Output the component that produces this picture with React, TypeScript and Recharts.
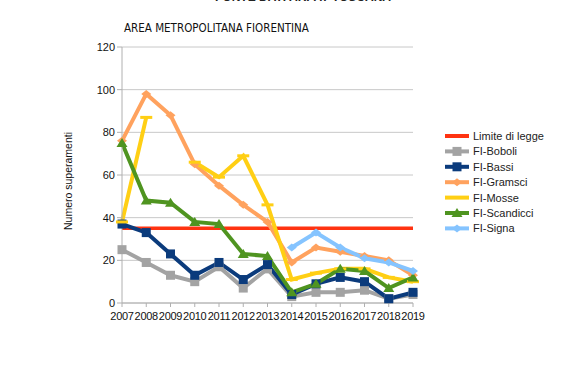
import { LineChart, Line, XAxis, YAxis, CartesianGrid } from "recharts"

const years = ["2007", "2008", "2009", "2010", "2011", "2012", "2013", "2014", "2015", "2016", "2017", "2018", "2019"]
const limite = [35, 35, 35, 35, 35, 35, 35, 35, 35, 35, 35, 35, 35]
const boboli = [25, 19, 13, 10, 17, 7, 16, 3, 5, 5, 6, 2, 4]
const bassi = [37, 33, 23, 13, 19, 11, 18, 4, 9, 12, 10, 2, 5]
const gramsci = [76, 98, 88, 65, 55, 46, 38, 19, 26, 24, 22, 20, 13]
const mosse = [38, 87, null, 66, 59, 69, 46, 11, 14, 16, 16, 12, 10]
const scandicci = [75, 48, 47, 38, 37, 23, 22, 5, 9, 16, 15, 7, 12]
const signa = [null, null, null, null, null, null, null, 26, 33, 26, 21, 19, 15]
const yTicks = [0, 20, 40, 60, 80, 100, 120]

const data = years.map((y, i) => ({
  year: y,
  limite: limite[i],
  boboli: boboli[i],
  bassi: bassi[i],
  gramsci: gramsci[i],
  mosse: mosse[i],
  scandicci: scandicci[i],
  signa: signa[i],
}))

type Kind = "none" | "square" | "triangle" | "arrow" | "bar"

const SERIES: { key: string; name: string; color: string; kind: Kind }[] = [
  { key: "limite", name: "Limite di legge", color: "#ff3311", kind: "none" },
  { key: "boboli", name: "FI-Boboli", color: "#a3a3a3", kind: "square" },
  { key: "bassi", name: "FI-Bassi", color: "#0b3b7c", kind: "square" },
  { key: "gramsci", name: "FI-Gramsci", color: "#ffa25e", kind: "arrow" },
  { key: "mosse", name: "FI-Mosse", color: "#ffcf14", kind: "bar" },
  { key: "scandicci", name: "FI-Scandicci", color: "#4f9420", kind: "triangle" },
  { key: "signa", name: "FI-Signa", color: "#85c4ff", kind: "arrow" },
]

const FONT = "Liberation Sans, Arial, sans-serif"

function Marker({ cx, cy, kind, color }: { cx: number; cy: number; kind: Kind; color: string }) {
  if (kind === "square") return <rect x={cx - 4.5} y={cy - 4.5} width={9} height={9} fill={color} />
  if (kind === "triangle") return <polygon points={`${cx},${cy - 5} ${cx + 5.5},${cy + 4} ${cx - 5.5},${cy + 4}`} fill={color} />
  if (kind === "arrow")
    return <polygon points={`${cx - 5},${cy} ${cx},${cy - 4} ${cx + 5},${cy} ${cx},${cy + 4}`} fill={color} />
  if (kind === "bar") return <rect x={cx - 6} y={cy - 1.5} width={12} height={3} fill={color} />
  return null
}

function makeDot(kind: Kind, color: string) {
  return (props: any) => {
    const { cx, cy, value, index } = props
    if (kind === "none" || value == null || cx == null || cy == null) return <g key={`d-${index}`} />
    return (
      <g key={`d-${index}`}>
        <Marker cx={cx} cy={cy} kind={kind} color={color} />
      </g>
    )
  }
}

function LegendBox() {
  return (
    <svg width={127} height={110} style={{ position: "absolute", left: 445, top: 128 }}>
      {SERIES.map((s, i) => {
        const y = 8 + i * 15.4
        return (
          <g key={s.key}>
            <line x1={0} x2={24} y1={y} y2={y} stroke={s.color} strokeWidth={4} />
            {s.kind !== "none" && s.kind !== "bar" && <Marker cx={12} cy={y} kind={s.kind} color={s.color} />}
            <text x={28} y={y + 4} fontSize={11} fill="#222" fontFamily={FONT}>
              {s.name}
            </text>
          </g>
        )
      })}
    </svg>
  )
}

export default function App() {
  return (
    <div style={{ position: "absolute", left: 0, top: 0, width: 572, height: 366, background: "#fff", overflow: "hidden" }}>
      <div
        style={{
          position: "absolute",
          left: 0,
          width: 572,
          top: -9,
          textAlign: "center",
          paddingLeft: 34,
          boxSizing: "border-box",
          fontFamily: FONT,
          fontWeight: "bold",
          fontSize: 12,
          lineHeight: "12px",
          color: "#222",
        }}
      >
        FONTE DATI ARPAT TOSCANA
      </div>
      <div
        style={{
          position: "absolute",
          left: 124,
          top: 21,
          fontFamily: "Liberation Sans Narrow, DejaVu Sans Condensed, sans-serif",
          fontSize: 11.5,
          color: "#111",
          whiteSpace: "nowrap",
        }}
      >
        AREA METROPOLITANA FIORENTINA
      </div>
      <div
        style={{
          position: "absolute",
          left: 68,
          top: 181,
          transform: "translate(-50%, -50%) rotate(-90deg)",
          fontFamily: FONT,
          fontSize: 10.5,
          color: "#111",
          whiteSpace: "nowrap",
        }}
      >
        Numero superamenti
      </div>
      <LineChart width={572} height={366} data={data} margin={{ top: 47, right: 159, left: 82, bottom: 43 }}>
        <CartesianGrid vertical={false} stroke="#c8c8c8" strokeWidth={1} />
        <XAxis
          dataKey="year"
          interval={0}
          tick={{ fontSize: 11, fill: "#111", fontFamily: FONT, letterSpacing: -0.3 }}
          axisLine={{ stroke: "#b0b0b0" }}
          tickLine={{ stroke: "#b0b0b0" }}
          tickSize={4}
          tickMargin={5}
          height={20}
        />
        <YAxis
          domain={[0, 120]}
          ticks={yTicks}
          width={40}
          tick={{ fontSize: 11, fill: "#111", fontFamily: FONT }}
          axisLine={{ stroke: "#b0b0b0" }}
          tickLine={{ stroke: "#b0b0b0" }}
          tickSize={5}
        />
        <YAxis yAxisId="r" orientation="right" width={0} tick={false} axisLine={{ stroke: "#c8c8c8" }} tickLine={false} />
        {SERIES.map((s) => (
          <Line
            key={s.key}
            dataKey={s.key}
            name={s.name}
            type="linear"
            stroke={s.color}
            strokeWidth={s.key === "limite" ? 3.5 : 4}
            dot={makeDot(s.kind, s.color)}
            activeDot={false}
            connectNulls={false}
            isAnimationActive={false}
          />
        ))}
      </LineChart>
      <LegendBox />
    </div>
  )
}
